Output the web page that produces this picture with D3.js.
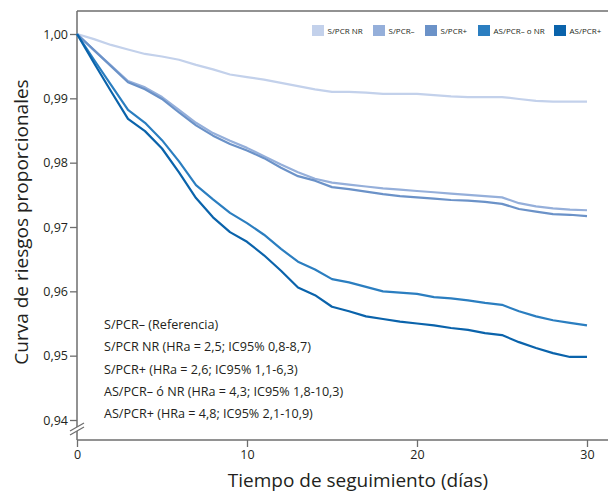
<!DOCTYPE html>
<html>
<head>
<meta charset="utf-8">
<script src="https://cdn.jsdelivr.net/npm/d3@7"></script>
<style>
  body { margin: 0; background: #fff; }
  svg text { font-family: "Open Sans", "Noto Sans", sans-serif; fill: #231f20; }
</style>
</head>
<body>
<svg id="chart" width="608" height="497"></svg>
<script>
// Follow-up days and the five curves (proportional hazards survival)
const days = d3.range(0, 31);
const seriesNames = ['S/PCR NR', 'S/PCR–', 'S/PCR+', 'AS/PCR– o NR', 'AS/PCR+'];
const sPcrNR = [1.0, 0.9992, 0.9983, 0.9976, 0.9969, 0.9965, 0.9960, 0.9952, 0.9945, 0.9937,
  0.9933, 0.9929, 0.9924, 0.9919, 0.9914, 0.9910, 0.9910, 0.9909, 0.9907, 0.9907,
  0.9907, 0.9905, 0.9903, 0.9902, 0.9902, 0.9902, 0.9899, 0.9896, 0.9895, 0.9895, 0.9895];
const sPcrNeg = [1.0, 0.9975, 0.9951, 0.9927, 0.9917, 0.9902, 0.9882, 0.9862, 0.9846, 0.9834,
  0.9823, 0.9810, 0.9797, 0.9785, 0.9775, 0.9769, 0.9766, 0.9763, 0.9760, 0.9758,
  0.9756, 0.9754, 0.9752, 0.9750, 0.9748, 0.9746, 0.9737, 0.9732, 0.9729, 0.9727, 0.9726];
const sPcrPos = [1.0, 0.9975, 0.9950, 0.9925, 0.9914, 0.9899, 0.9878, 0.9858, 0.9842, 0.9829,
  0.9819, 0.9807, 0.9792, 0.9779, 0.9772, 0.9762, 0.9759, 0.9755, 0.9751, 0.9748,
  0.9746, 0.9744, 0.9742, 0.9741, 0.9739, 0.9736, 0.9728, 0.9724, 0.9720, 0.9719, 0.9717];
const asPcrNegNR = [1.0, 0.9960, 0.9921, 0.9882, 0.9862, 0.9835, 0.9802, 0.9765, 0.9743, 0.9722,
  0.9706, 0.9688, 0.9666, 0.9646, 0.9634, 0.9619, 0.9614, 0.9607, 0.9600, 0.9598,
  0.9596, 0.9591, 0.9589, 0.9586, 0.9582, 0.9579, 0.9569, 0.9561, 0.9555, 0.9551, 0.9547];
const asPcrPos = [1.0, 0.9955, 0.9911, 0.9868, 0.9849, 0.9822, 0.9785, 0.9745, 0.9715, 0.9692,
  0.9677, 0.9656, 0.9632, 0.9606, 0.9594, 0.9576, 0.9569, 0.9561, 0.9557, 0.9553,
  0.9550, 0.9547, 0.9543, 0.9540, 0.9535, 0.9532, 0.9521, 0.9512, 0.9504, 0.9498, 0.9498];
const seriesValues = [sPcrNR, sPcrNeg, sPcrPos, asPcrNegNR, asPcrPos];
const seriesColors = ['#c3d1eb', '#95afda', '#6b92c8', '#2b7ec0', '#0a63ab'];
const xTicks = [0, 10, 20, 30];
const yTicks = [0.94, 0.95, 0.96, 0.97, 0.98, 0.99, 1.00];
const notes = [
  'S/PCR– (Referencia)',
  'S/PCR NR (HRa = 2,5; IC95% 0,8-8,7)',
  'S/PCR+ (HRa = 2,6; IC95% 1,1-6,3)',
  'AS/PCR– ó NR (HRa = 4,3; IC95% 1,8-10,3)',
  'AS/PCR+ (HRa = 4,8; IC95% 2,1-10,9)',
];

const svg = d3.select('#chart');
const axisColor = '#6e6e6e';
const plotLeft = 77;
const plotBottom = 440;
const plotTop = 11;
const plotRight = 608;

const x = d3.scaleLinear().domain([0, 30]).range([plotLeft, 587]);
const y = d3.scaleLinear().domain([0.94, 1.0]).range([420, 34]);

// axes
const xAxis = svg.append('g').attr('transform', `translate(0,${plotBottom})`)
  .call(d3.axisBottom(x).tickValues(xTicks).tickSize(7).tickPadding(3).tickFormat(d3.format('d')));
const yAxis = svg.append('g').attr('transform', `translate(${plotLeft},0)`)
  .call(d3.axisLeft(y).tickValues(yTicks).tickSize(7).tickPadding(2)
    .tickFormat(d => d3.format('.2f')(d).replace('.', ',')));
[xAxis, yAxis].forEach((a) => {
  a.select('.domain').remove();
  a.selectAll('.tick line').attr('stroke', axisColor).attr('stroke-width', 1.3);
  a.selectAll('.tick text').style('font-size', '12.5px').attr('fill', '#231f20');
});

// frame lines (left axis, bottom axis, top border)
svg.append('line')
  .attr('x1', plotLeft).attr('x2', plotLeft).attr('y1', plotTop).attr('y2', plotBottom)
  .attr('stroke', axisColor).attr('stroke-width', 1.5);
svg.append('line')
  .attr('x1', plotLeft).attr('x2', plotRight).attr('y1', plotBottom).attr('y2', plotBottom)
  .attr('stroke', axisColor).attr('stroke-width', 1.5);
svg.append('line')
  .attr('x1', plotLeft).attr('x2', plotRight).attr('y1', plotTop).attr('y2', plotTop)
  .attr('stroke', axisColor).attr('stroke-width', 1.5);

// axis break marks
svg.append('polygon')
  .attr('points', '70,431 84,423 84,427 70,435')
  .attr('fill', '#fff');
[0, 4].forEach((off) => {
  svg.append('line')
    .attr('x1', 70).attr('y1', 431 + off).attr('x2', 84).attr('y2', 423 + off)
    .attr('stroke', axisColor).attr('stroke-width', 1.2);
});

// curves
const line = d3.line().x((d, i) => x(days[i])).y(d => y(d));
seriesValues.forEach((vals, i) => {
  svg.append('path')
    .datum(vals)
    .attr('d', line)
    .attr('fill', 'none')
    .attr('stroke', seriesColors[i])
    .attr('stroke-width', 2.2)
    .attr('stroke-linejoin', 'round');
});

// legend
const legendX = [312, 373, 425, 478, 554];
const legend = svg.append('g');
seriesNames.forEach((name, i) => {
  legend.append('rect')
    .attr('x', legendX[i]).attr('y', 25).attr('width', 12).attr('height', 11)
    .attr('fill', seriesColors[i]);
  legend.append('text')
    .attr('x', legendX[i] + 15.5).attr('y', 33.5)
    .style('font-size', '8px')
    .attr('fill', '#4d4d4d')
    .text(name);
});

// hazard ratio notes
svg.append('g').selectAll('text').data(notes).join('text')
  .attr('x', 104)
  .attr('y', (d, i) => 329 + i * 22.3)
  .style('font-size', '12.6px')
  .text(d => d);

// axis titles
svg.append('text')
  .attr('x', 358).attr('y', 487)
  .attr('text-anchor', 'middle')
  .style('font-size', '19px')
  .text('Tiempo de seguimiento (días)');
svg.append('text')
  .attr('transform', 'translate(28,222) rotate(-90)')
  .attr('text-anchor', 'middle')
  .style('font-size', '19px')
  .text('Curva de riesgos proporcionales');
</script>
</body>
</html>
